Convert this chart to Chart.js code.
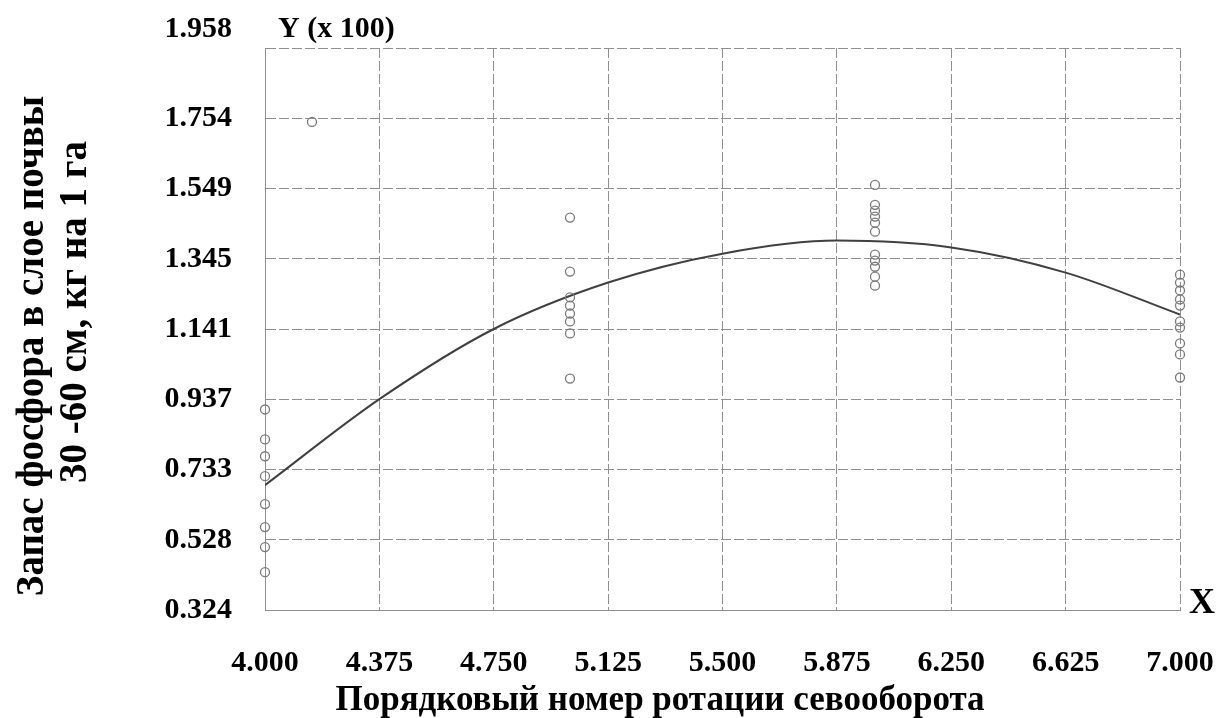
<!DOCTYPE html>
<html>
<head>
<meta charset="utf-8">
<script src="https://cdn.jsdelivr.net/npm/chart.js@4.4.1/dist/chart.umd.min.js"></script>
<style>
  html, body { margin: 0; padding: 0; background: #fff; }
  #wrap { width: 1216px; height: 718px; position: relative; }
</style>
</head>
<body>
<div id="wrap"><canvas id="phosChart"></canvas></div>
<script>
// деления осей
const xTicks = [4.000, 4.375, 4.750, 5.125, 5.500, 5.875, 6.250, 6.625, 7.000];
const yTicks = [0.324, 0.528, 0.733, 0.937, 1.141, 1.345, 1.549, 1.754, 1.958];

// наблюдения
const obsAt4 = [0.907, 0.820, 0.771, 0.713, 0.632, 0.565, 0.507, 0.434];
const obsOutlierX = 4.154;
const obsOutlierY = 1.743;
const obsAt5 = [1.465, 1.308, 1.233, 1.209, 1.186, 1.163, 1.128, 0.997];
const obsAt6 = [1.560, 1.502, 1.485, 1.468, 1.450, 1.424, 1.357, 1.340, 1.322, 1.293, 1.267];
const obsAt7 = [1.299, 1.276, 1.253, 1.227, 1.209, 1.163, 1.145, 1.099, 1.067, 1.000];

// линия регрессии (точки)
const curveX = [4.000, 4.375, 4.750, 5.125, 5.500, 5.875, 6.250, 6.625, 7.000];
const curveY = [0.687, 0.937, 1.141, 1.276, 1.360, 1.398, 1.378, 1.305, 1.183];

const serif = '"Liberation Serif", "Times New Roman", serif';

// собираем точки для scatter
const obsPoints = [];
obsAt4.forEach(v => obsPoints.push({ x: 4, y: v }));
obsPoints.push({ x: obsOutlierX, y: obsOutlierY });
obsAt5.forEach(v => obsPoints.push({ x: 5, y: v }));
obsAt6.forEach(v => obsPoints.push({ x: 6, y: v }));
obsAt7.forEach(v => obsPoints.push({ x: 7, y: v }));

const curvePoints = curveX.map((x, i) => ({ x: x, y: curveY[i] }));

// подписи, которых нет в стандартных опциях
const extraText = {
  id: 'extraText',
  afterDraw(chart) {
    const c = chart.ctx;
    c.save();
    c.fillStyle = '#000';
    c.font = 'bold 30px ' + serif;
    c.textBaseline = 'alphabetic';
    c.textAlign = 'right';
    c.fillText('1.958', 232, 37);
    c.textAlign = 'left';
    c.fillText('Y (x 100)', 278, 37);

    c.font = 'bold 36px ' + serif;
    c.fillText('X', 1189, 613);

    c.font = 'bold 35px ' + serif;
    c.textAlign = 'center';
    c.fillText('Порядковый номер ротации севооборота', 660, 710);

    // заголовок оси Y, две строки
    c.font = 'bold 39px ' + serif;
    c.save();
    c.translate(43, 346);
    c.rotate(-Math.PI / 2);
    c.fillText('Запас фосфора в слое почвы', 0, 0);
    c.restore();
    c.save();
    c.translate(86, 312);
    c.rotate(-Math.PI / 2);
    c.fillText('30 -60 см, кг на 1 га', 0, 0);
    c.restore();
    c.restore();
  }
};

const ctx = document.getElementById('phosChart');
new Chart(ctx, {
  type: 'scatter',
  data: {
    datasets: [
      {
        label: 'Наблюдения',
        data: obsPoints,
        pointStyle: 'circle',
        pointRadius: 4.5,
        pointBorderWidth: 1.3,
        pointBackgroundColor: 'rgba(255,255,255,0)',
        pointBorderColor: '#7a7a7a',
        showLine: false,
        clip: 8
      },
      {
        label: 'Модель',
        data: curvePoints,
        showLine: true,
        borderColor: '#404040',
        borderWidth: 2,
        pointRadius: 0,
        cubicInterpolationMode: 'monotone',
        fill: false
      }
    ]
  },
  options: {
    responsive: true,
    maintainAspectRatio: false,
    animation: false,
    layout: {
      padding: { left: 0, right: 36, top: 48, bottom: 0 }
    },
    plugins: {
      legend: { display: false },
      tooltip: { enabled: false }
    },
    scales: {
      x: {
        type: 'linear',
        min: 4,
        max: 7,
        afterBuildTicks: function(scale) {
          scale.ticks = xTicks.map(v => ({ value: v }));
        },
        afterFit: function(scale) {
          scale.height = 108;
          // крайние подписи не должны сжимать область графика
          scale.paddingLeft = 0;
          scale.paddingRight = 0;
        },
        grid: {
          color: '#8f8f8f',
          lineWidth: 1,
          drawTicks: false
        },
        border: { color: '#8f8f8f', dash: [10, 3] },
        ticks: {
          padding: 35,
          maxRotation: 0,
          autoSkip: false,
          color: '#000',
          font: { family: serif, size: 30, weight: 'bold' },
          callback: function(value) {
            return Number(value).toFixed(3);
          }
        }
      },
      y: {
        type: 'linear',
        min: 0.324,
        max: 1.958,
        afterBuildTicks: function(scale) {
          scale.ticks = yTicks.map(v => ({ value: v }));
        },
        afterFit: function(scale) {
          scale.width = 265;
          scale.paddingTop = 0;
          scale.paddingBottom = 0;
        },
        grid: {
          color: '#8f8f8f',
          lineWidth: 1,
          drawTicks: false
        },
        border: { color: '#8f8f8f', dash: [10, 3] },
        ticks: {
          padding: 33,
          autoSkip: false,
          color: '#000',
          font: { family: serif, size: 30, weight: 'bold' },
          callback: function(value) {
            // верхнее значение подписано рядом с "Y (x 100)"
            if (Math.abs(value - 1.958) < 1e-6) return '';
            return Number(value).toFixed(3);
          }
        }
      }
    }
  },
  plugins: [extraText]
});
</script>
</body>
</html>
